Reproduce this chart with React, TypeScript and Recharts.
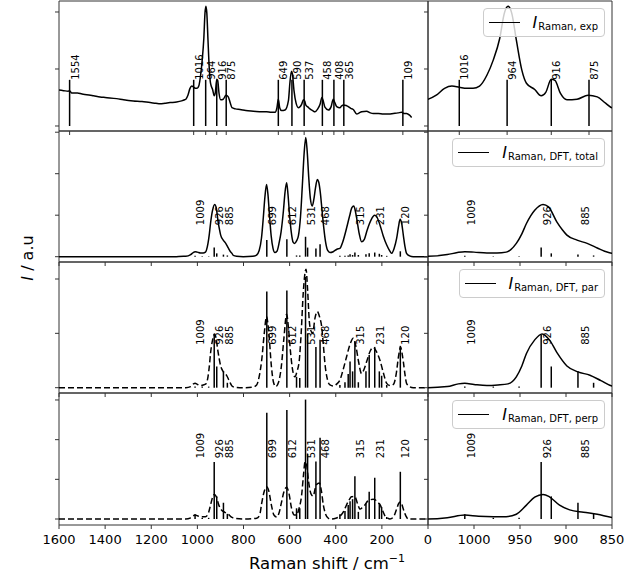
import { ComposedChart, Line, XAxis, YAxis, Scatter, ReferenceLine, ReferenceArea, Legend } from 'recharts'

const FRAME = '#333'
const PAD_L = 30
const PAD_R = 20
const PAD_T = 8
const PAD_B = 30

// tick positions (cm-1)
const shiftTicks = [1600, 1400, 1200, 1000, 800, 600, 400, 200, 0]
const zoomTicks = [1000, 950, 900, 850]

// experimental peak positions
const expPeaks = [1554, 1016, 964, 916, 875, 649, 590, 537, 458, 408, 365, 109]

// DFT modes and their stick heights per polarisation
const dftModes = [1010, 979, 951, 927, 916, 887, 870, 699, 612, 570, 556, 531, 522, 486, 468, 382, 360, 346, 338, 327, 317, 302, 269, 255, 231, 211, 201, 179, 120]
const totalHeights = [0.02, 0.01, 0.01, 0.22, 0.08, 0.05, 0.03, 0.4, 0.42, 0.03, 0.03, 0.48, 0.22, 0.2, 0.3, 0.02, 0.02, 0.03, 0.06, 0.04, 0.1, 0.04, 0.06, 0.08, 0.1, 0.07, 0.04, 0.02, 0.13]
const parHeights = [0.02, 0.02, 0.02, 0.97, 0.39, 0.3, 0.09, 1.77, 1.79, 0.2, 0.18, 2.04, 1.0, 0.75, 0.88, 0.05, 0.1, 0.25, 0.48, 0.3, 0.85, 0.1, 0.3, 0.6, 0.75, 0.3, 0.22, 0.05, 0.77]
const perpHeights = [0.12, 0.03, 0.03, 1.44, 0.57, 0.41, 0.13, 2.68, 2.75, 0.27, 0.27, 3.01, 1.64, 1.45, 2.05, 0.12, 0.2, 0.35, 0.45, 0.5, 1.08, 0.18, 0.4, 0.69, 1.04, 0.4, 0.3, 0.05, 1.19]
const dftLabels = [1009, 926, 885, 699, 612, 531, 468, 315, 231, 120]

type Pt = [number, number]

const expSpectrum: Pt[] = [
  [1600, 0.63], [1580, 0.62], [1560, 0.61], [1554, 0.62], [1545, 0.58], [1520, 0.58], [1500, 0.56], [1480, 0.55],
  [1450, 0.53], [1422, 0.51], [1400, 0.5], [1350, 0.48], [1320, 0.46], [1278, 0.44], [1240, 0.43], [1205, 0.41],
  [1180, 0.4], [1162, 0.39], [1140, 0.4], [1119, 0.41], [1090, 0.42], [1068, 0.44], [1055, 0.46], [1050, 0.47],
  [1041, 0.54], [1032, 0.66], [1024, 0.7], [1016, 0.68], [1008, 0.66], [1001, 0.66], [994, 0.7], [986, 0.89],
  [979, 1.16], [972, 1.54], [967, 1.98], [963, 2.1], [959, 1.98], [954, 1.51], [948, 0.98], [943, 0.75],
  [934, 0.64], [927, 0.53], [922, 0.59], [916, 0.82], [912, 0.8], [906, 0.57], [899, 0.46], [888, 0.47],
  [876, 0.54], [866, 0.51], [857, 0.4], [850, 0.32], [835, 0.3], [815, 0.29], [790, 0.27], [757, 0.26],
  [720, 0.25], [700, 0.25], [680, 0.24], [663, 0.24], [655, 0.32], [649, 0.47], [643, 0.32], [635, 0.27],
  [620, 0.28], [605, 0.45], [599, 0.75], [592, 0.96], [588, 0.92], [581, 0.62], [572, 0.4], [562, 0.32],
  [548, 0.38], [540, 0.46], [535, 0.44], [529, 0.36], [520, 0.33], [512, 0.3], [500, 0.27], [490, 0.25],
  [478, 0.3], [468, 0.38], [460, 0.5], [455, 0.45], [447, 0.33], [432, 0.28], [420, 0.34], [411, 0.47],
  [405, 0.42], [396, 0.34], [382, 0.32], [375, 0.35], [367, 0.37], [355, 0.36], [346, 0.34], [335, 0.31],
  [324, 0.29], [309, 0.21], [298, 0.23], [288, 0.25], [266, 0.26], [250, 0.23], [237, 0.22], [215, 0.22],
  [194, 0.21], [170, 0.21], [150, 0.22], [130, 0.23], [114, 0.24], [105, 0.22], [93, 0.22], [80, 0.19], [71, 0.15],
]

const totalSpectrum: Pt[] = [
  [1600, 0], [1100, 0], [1060, 0.01], [1050, 0.01], [1029, 0.05], [1018, 0.1], [1010, 0.12], [1000, 0.11],
  [986, 0.09], [975, 0.09], [965, 0.11], [960, 0.17], [954, 0.32], [948, 0.55], [943, 0.8], [934, 1.12],
  [925, 1.26], [919, 1.2], [910, 0.84], [904, 0.65], [899, 0.52], [888, 0.4], [877, 0.32], [866, 0.21],
  [858, 0.13], [850, 0.08], [844, 0.03], [830, 0.01], [801, 0], [760, 0.01], [745, 0.03], [732, 0.15],
  [722, 0.45], [714, 0.95], [707, 1.45], [700, 1.74], [694, 1.5], [688, 1.05], [680, 0.5], [672, 0.2],
  [664, 0.1], [655, 0.13], [645, 0.35], [637, 0.6], [627, 1.1], [620, 1.55], [613, 1.78], [607, 1.5],
  [601, 1.05], [593, 0.6], [585, 0.35], [578, 0.32], [570, 0.38], [562, 0.5], [553, 0.95], [545, 1.7],
  [537, 2.5], [530, 2.87], [524, 2.55], [517, 1.9], [510, 1.4], [502, 1.22], [495, 1.38], [488, 1.65],
  [480, 1.86], [474, 1.8], [467, 1.55], [460, 1.15], [452, 0.7], [444, 0.35], [435, 0.15], [425, 0.1],
  [411, 0.12], [395, 0.18], [382, 0.2], [370, 0.35], [353, 0.69], [340, 0.98], [330, 1.18], [322, 1.22],
  [315, 1.1], [309, 0.92], [298, 0.55], [288, 0.36], [276, 0.42], [266, 0.6], [255, 0.78], [244, 0.92],
  [232, 1.0], [222, 0.96], [208, 0.76], [194, 0.5], [179, 0.28], [166, 0.14], [158, 0.08], [147, 0.2],
  [136, 0.44], [128, 0.72], [121, 0.9], [114, 0.8], [107, 0.52], [100, 0.25], [93, 0.08], [80, 0.02],
  [64, 0], [0, 0],
]

const parSpectrum: Pt[] = [
  [1600, 0], [1100, 0], [1050, 0], [1029, 0.02], [1017, 0.07], [1010, 0.08], [1000, 0.06], [986, 0.04],
  [974, 0.05], [963, 0.07], [954, 0.2], [948, 0.4], [943, 0.63], [934, 0.88], [926, 0.99], [918, 0.88],
  [910, 0.65], [899, 0.4], [887, 0.29], [874, 0.23], [862, 0.13], [850, 0.03], [840, 0.01], [800, 0],
  [760, 0.01], [743, 0.05], [730, 0.25], [721, 0.51], [710, 1.0], [700, 1.31], [690, 1.0], [679, 0.39],
  [670, 0.1], [660, 0.02], [648, 0.1], [636, 0.39], [625, 0.9], [613, 1.35], [604, 1.05], [596, 0.65],
  [588, 0.35], [577, 0.2], [568, 0.3], [558, 0.51], [550, 1.0], [541, 1.74], [529, 2.18], [522, 1.8],
  [515, 1.24], [508, 1.05], [500, 1.0], [490, 1.28], [480, 1.4], [470, 1.3], [461, 1.12], [454, 0.8],
  [447, 0.45], [436, 0.15], [425, 0.05], [411, 0.03], [395, 0.07], [382, 0.14], [370, 0.3], [353, 0.57],
  [338, 0.8], [324, 0.91], [312, 0.75], [302, 0.5], [288, 0.26], [278, 0.33], [266, 0.48], [250, 0.68],
  [237, 0.74], [222, 0.65], [208, 0.5], [194, 0.28], [179, 0.08], [165, 0.04], [150, 0.06], [138, 0.25],
  [128, 0.57], [119, 0.75], [112, 0.62], [107, 0.48], [100, 0.25], [93, 0.08], [80, 0.02], [64, 0], [0, 0],
]

const perpSpectrum: Pt[] = [
  [1600, 0], [1100, 0], [1050, 0], [1029, 0.03], [1010, 0.1], [995, 0.07], [979, 0.06], [965, 0.06],
  [954, 0.12], [943, 0.35], [934, 0.55], [925, 0.62], [918, 0.56], [907, 0.35], [896, 0.23], [881, 0.17],
  [866, 0.12], [850, 0.04], [840, 0.02], [800, 0], [760, 0.01], [743, 0.02], [730, 0.1], [721, 0.4],
  [710, 0.7], [700, 0.81], [690, 0.7], [679, 0.35], [668, 0.1], [656, 0.05], [646, 0.15], [636, 0.4],
  [625, 0.68], [613, 0.8], [602, 0.62], [592, 0.28], [580, 0.1], [570, 0.1], [560, 0.25], [548, 0.6],
  [540, 1.1], [533, 1.44], [526, 1.35], [519, 1.0], [512, 0.73], [504, 0.6], [497, 0.58], [490, 0.75],
  [483, 0.87], [471, 0.91], [462, 0.7], [454, 0.36], [444, 0.12], [432, 0.02], [425, 0], [400, 0.02],
  [382, 0.07], [365, 0.2], [353, 0.36], [340, 0.5], [332, 0.56], [318, 0.57], [305, 0.38], [295, 0.25],
  [283, 0.3], [273, 0.36], [262, 0.45], [252, 0.48], [238, 0.5], [230, 0.49], [220, 0.43], [208, 0.36],
  [196, 0.2], [186, 0.07], [175, 0.02], [165, 0], [150, 0.05], [136, 0.25], [128, 0.38], [121, 0.43],
  [114, 0.38], [107, 0.25], [96, 0.08], [86, 0], [0, 0],
]

const toPoints = (pairs: Pt[]) => pairs.map(([x, y]) => ({ x, y }))

const rows = [
  {
    top: 1, h: 130, yDomain: [-0.088, 2.193], yTicks: [0, 1, 2],
    curve: toPoints(expSpectrum), dashedLeft: false,
    sticks: expPeaks.map((p) => [p, 0.81] as Pt), labels: expPeaks, labelY: 0.81,
    xTicks: [expPeaks, expPeaks], legend: 'Raman, exp',
  },
  {
    top: 131, h: 131, yDomain: [-0.128, 3.029], yTicks: [0, 1, 2, 3],
    curve: toPoints(totalSpectrum), dashedLeft: false,
    sticks: dftModes.map((m, i) => [m, totalHeights[i]] as Pt), labels: dftLabels, labelY: 0.76,
    xTicks: [shiftTicks, zoomTicks], legend: 'Raman, DFT, total',
  },
  {
    top: 262, h: 131, yDomain: [-0.098, 2.313], yTicks: [0, 1, 2],
    curve: toPoints(parSpectrum), dashedLeft: true,
    sticks: dftModes.map((m, i) => [m, parHeights[i]] as Pt), labels: dftLabels, labelY: 0.79,
    xTicks: [shiftTicks, zoomTicks], legend: 'Raman, DFT, par',
  },
  {
    top: 393, h: 132, yDomain: [-0.151, 3.176], yTicks: [0, 1, 2, 3],
    curve: toPoints(perpSpectrum), dashedLeft: true,
    sticks: dftModes.map((m, i) => [m, perpHeights[i]] as Pt), labels: dftLabels, labelY: 1.53,
    xTicks: [shiftTicks, zoomTicks], legend: 'Raman, DFT, perp',
  },
]

const columns = [
  { x: 59, w: 369, domain: [0, 1600] },
  { x: 428, w: 184, domain: [850, 1050] },
]

const PeakLabel = (props: any) => {
  const { cx, cy, payload } = props
  return (
    <text transform={`translate(${cx + 9},${cy}) rotate(-90)`} fontSize={10} fill="#000">
      {payload.label}
    </text>
  )
}

const LegendBox = ({ sub }: { sub: string }) => (
  <div
    style={{
      display: 'flex', alignItems: 'center', height: 29, boxSizing: 'border-box',
      padding: '0 6px 0 5px', border: '1px solid #ccc', borderRadius: 4,
      background: 'rgba(255,255,255,0.8)', color: '#000', whiteSpace: 'nowrap',
    }}
  >
    <span style={{ width: 31, borderTop: '1.5px solid #000', marginRight: 13 }} />
    <span style={{ fontStyle: 'italic', fontSize: 16, lineHeight: '16px' }}>I</span>
    <span style={{ fontSize: 10, lineHeight: '10px', position: 'relative', top: 4, marginLeft: 1 }}>{sub}</span>
  </div>
)

function Panel({ row, col, ci, last }: { row: (typeof rows)[number]; col: (typeof columns)[number]; ci: number; last: boolean }) {
  const [lo, hi] = col.domain
  const inside = (v: number) => v >= lo && v <= hi
  const sticks = row.sticks.filter(([x]) => inside(x))
  const labels = row.labels.filter(inside).map((v) => ({ x: v, y: row.labelY, label: String(v) }))
  const ticks = row.xTicks[ci]

  return (
    <div style={{ position: 'absolute', left: col.x - PAD_L, top: row.top - PAD_T }}>
      <ComposedChart
        width={col.w + PAD_L + PAD_R}
        height={row.h + PAD_T + PAD_B}
        margin={{ top: PAD_T, right: PAD_R, bottom: 0, left: 0 }}
      >
        <XAxis
          type="number" dataKey="x" domain={col.domain} reversed allowDataOverflow
          ticks={ticks} interval={0} height={PAD_B} tickSize={4} tickMargin={6}
          axisLine={false} tickLine={{ stroke: FRAME }}
          tick={{ fontSize: 13, fill: '#000' }}
          tickFormatter={last ? (v: number) => String(v) : () => ''}
        />
        <YAxis
          type="number" dataKey="y" domain={row.yDomain} allowDataOverflow
          ticks={row.yTicks} interval={0} width={PAD_L} tickSize={4}
          axisLine={false} tickLine={{ stroke: FRAME }} tickFormatter={() => ''}
        />
        <ReferenceArea
          x1={lo} x2={hi} y1={row.yDomain[0]} y2={row.yDomain[1]}
          fill="none" fillOpacity={0} stroke={FRAME} strokeWidth={1} ifOverflow="visible"
        />
        {sticks.map(([x, h]) => (
          <ReferenceLine
            key={x}
            segment={[{ x, y: 0 }, { x, y: h }]}
            stroke="#000" strokeWidth={1.5} ifOverflow="discard"
          />
        ))}
        <Line
          data={row.curve} dataKey="y" type="monotone" stroke="#000" strokeWidth={1.5}
          strokeDasharray={ci === 0 && row.dashedLeft ? '6 3' : undefined}
          dot={false} activeDot={false} isAnimationActive={false}
        />
        <Scatter data={labels} shape={PeakLabel} isAnimationActive={false} />
        {ci === 1 && (
          <Legend
            layout="horizontal" verticalAlign="middle" align="center"
            wrapperStyle={{ top: PAD_T + 7, right: PAD_R + 7, left: 'auto', width: 'auto', height: 'auto' }}
            content={() => <LegendBox sub={row.legend} />}
          />
        )}
      </ComposedChart>
    </div>
  )
}

export default function App() {
  return (
    <div
      style={{
        position: 'absolute', left: 0, top: 0, width: 640, height: 573, overflow: 'hidden',
        background: '#fff', fontFamily: '"DejaVu Sans", sans-serif', color: '#000',
      }}
    >
      {rows.map((row, ri) =>
        columns.map((col, ci) => (
          <Panel key={`${ri}-${ci}`} row={row} col={col} ci={ci} last={ri === rows.length - 1} />
        )),
      )}
      <div
        style={{
          position: 'absolute', left: 27, top: 258, fontSize: 16, whiteSpace: 'nowrap',
          transform: 'translate(-50%, -50%) rotate(-90deg)',
        }}
      >
        <i>I</i> / a.u
      </div>
      <div
        style={{
          position: 'absolute', left: 327, top: 556, fontSize: 16.5, lineHeight: '16px',
          whiteSpace: 'nowrap', transform: 'translateX(-50%)',
        }}
      >
        Raman shift / cm<span style={{ fontSize: 11, position: 'relative', top: -7 }}>−1</span>
      </div>
    </div>
  )
}
